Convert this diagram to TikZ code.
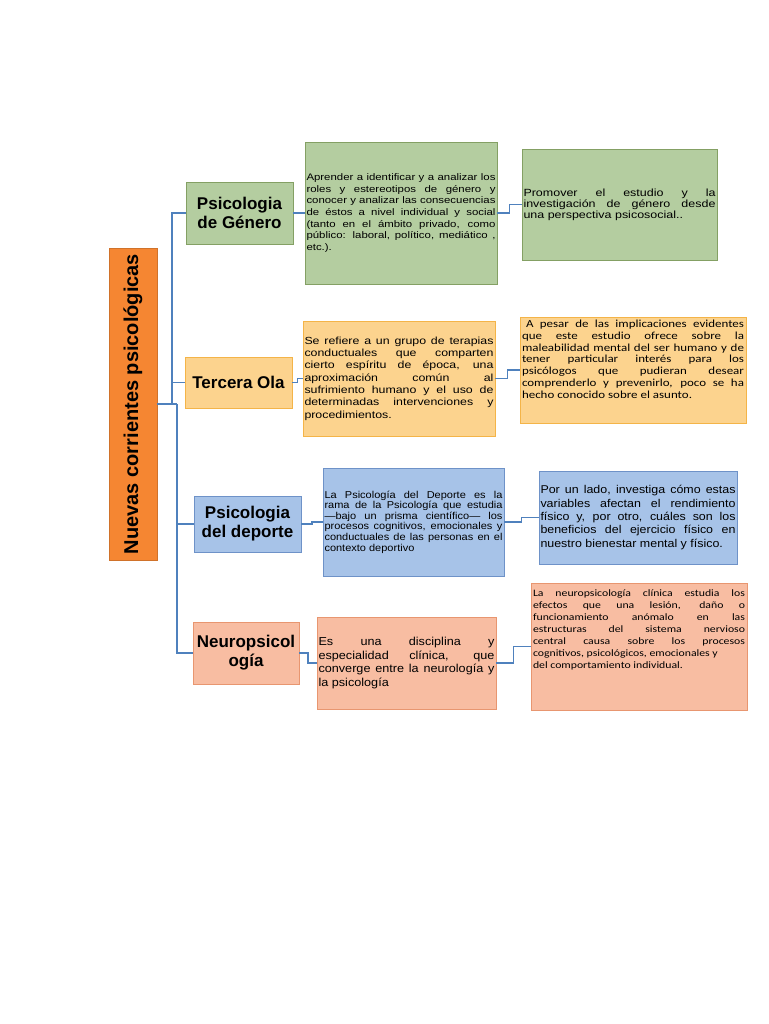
\documentclass[tikz,border=0pt]{standalone}
\usepackage{fontspec}
\setmainfont{Liberation Sans}
\newfontfamily\arialw[FakeStretch=1.2]{Liberation Sans}
\newfontfamily\arialn[FakeStretch=1.1]{Liberation Sans}
\newfontfamily\calw[FakeStretch=1.2]{Carlito}
\usetikzlibrary{calc}
\definecolor{lineblue}{RGB}{79,129,189}
\definecolor{rootor}{RGB}{245,134,50}
\definecolor{grn}{RGB}{180,205,160}
\definecolor{grnd}{RGB}{132,160,100}
\definecolor{ora}{RGB}{252,211,142}
\definecolor{orad}{RGB}{244,180,72}
\definecolor{blu}{RGB}{167,195,232}
\definecolor{blud}{RGB}{110,146,200}
\definecolor{sal}{RGB}{248,189,162}
\definecolor{sald}{RGB}{232,150,112}
\hbadness=10000
\hfuzz=5pt

\begin{document}
\begin{tikzpicture}
[x=1pt,y=-1pt,every node/.style={rectangle,draw,inner sep=1.5pt,text=black},
 title/.style={font=\bfseries\fontsize{17}{19}\selectfont,align=center,minimum width=107pt},
 desc/.style={align=justify},
 link/.style={draw=lineblue,line width=1.1pt}]
\useasboundingbox (0,0) rectangle (768,1024);
% root
\node[fill=rootor,draw=rootor!85!black,minimum width=48pt,minimum height=312pt] (r) at (133,404)
 {\rotatebox{90}{\bfseries\fontsize{20}{24}\selectfont Nuevas corrientes psicológicas}};
% first column
\node[title,fill=grn,draw=grnd,minimum height=62pt] (g1) at (239.5,213) {Psicologia\\de Género};
\node[title,fill=ora,draw=orad,minimum height=51pt] (t1) at (238.5,382.5) {Tercera Ola};
\node[title,fill=blu,draw=blud,minimum height=56pt] (d1) at (247.5,524) {Psicologia\\del deporte};
\node[title,fill=sal,draw=sald,minimum width=106pt,minimum height=62pt] (n1) at (246,653) {Neuropsicol\\ogía};
% second column
\node[desc,fill=grn,draw=grnd,text width=189pt,minimum height=142pt,font=\arialw\fontsize{9.5}{11.7}\selectfont] (g2) at (401,213)
 {Aprender a identificar y a analizar los\linebreak roles y estereotipos de género y\linebreak conocer y analizar las consecuencias\linebreak de éstos a nivel individual y social\linebreak (tanto en el ámbito privado, como\linebreak público: laboral, político, mediático ,\linebreak etc.).};
\node[desc,fill=ora,draw=orad,text width=189pt,minimum height=115pt,font=\arialw\fontsize{10.3}{12.3}\selectfont] (t2) at (399,378.5)
 {Se refiere a un grupo de terapias\linebreak conductuales que comparten\linebreak cierto espíritu de época, una\linebreak aproximación común al\linebreak sufrimiento humano y el uso de\linebreak determinadas intervenciones y\linebreak procedimientos.};
\node[desc,fill=blu,draw=blud,text width=178pt,minimum height=108pt,font=\arialn\fontsize{10}{10.6}\selectfont] (d2) at (413.5,522)
 {La Psicología del Deporte es la\linebreak rama de la Psicología que estudia\linebreak —bajo un prisma científico— los\linebreak procesos cognitivos, emocionales y\linebreak conductuales de las personas en el\linebreak contexto deportivo};
\node[desc,fill=sal,draw=sald,text width=176pt,minimum height=92pt,font=\arialn\fontsize{11.5}{13.7}\selectfont] (n2) at (406.5,663)
 {Es una disciplina y\linebreak especialidad clínica, que\linebreak converge entre la neurología y\linebreak la psicología};
% third column
\node[desc,fill=grn,draw=grnd,text width=192pt,minimum height=111pt,font=\arialw\fontsize{10.4}{11}\selectfont] (g3) at (619.5,204.5)
 {Promover el estudio y la\linebreak investigación de género desde\linebreak una perspectiva psicosocial..};
\node[fill=ora,draw=orad,inner sep=2pt] (t3) at (633,370)
 {\parbox[c][102pt][t]{222pt}{\calw\fontsize{10.8}{11.8}\selectfont\vspace*{1pt}%
 \hspace*{4pt}A pesar de las implicaciones evidentes\linebreak que este estudio ofrece sobre la\linebreak maleabilidad mental del ser humano y de\linebreak tener particular interés para los\linebreak psicólogos que pudieran desear\linebreak comprenderlo y prevenirlo, poco se ha\linebreak hecho conocido sobre el asunto.}};
\node[desc,fill=blu,draw=blud,text width=195pt,minimum height=93pt,font=\arialn\fontsize{11.3}{13.3}\selectfont] (d3) at (638,517.5)
 {Por un lado, investiga cómo estas\linebreak variables afectan el rendimiento\linebreak físico y, por otro, cuáles son los\linebreak beneficios del ejercicio físico en\linebreak nuestro bienestar mental y físico.};
\node[fill=sal,draw=sald,inner sep=2pt] (n3) at (639,646.5)
 {\parbox[c][123pt][t]{212pt}{\calw\fontsize{9.8}{11.9}\selectfont\vspace*{5pt}%
 La neuropsicología clínica estudia los\linebreak efectos que una lesión, daño o\linebreak funcionamiento anómalo en las\linebreak estructuras del sistema nervioso\linebreak central causa sobre los procesos\linebreak cognitivos, psicológicos, emocionales y\newline del comportamiento individual.}};
% trunk
\coordinate (c1) at (172,404);
\coordinate (c2) at (177,404);
\draw[link] (r.east) -- (c2);
\draw[link] (c1) |- (g1.west);
\draw[link] (c1) |- (t1.west);
\draw[link] (c2) |- (d1.west);
\draw[link] (c2) |- (n1.west);
\foreach \from/\to in {g1/g2,g2/g3,t1/t2,t2/t3,d1/d2,d2/d3,n1/n2,n2/n3}
\draw[link] (\from.east) -| ($(\from.east)!.5!(\to.west)$) |- (\to.west);
\end{tikzpicture}
\end{document}
